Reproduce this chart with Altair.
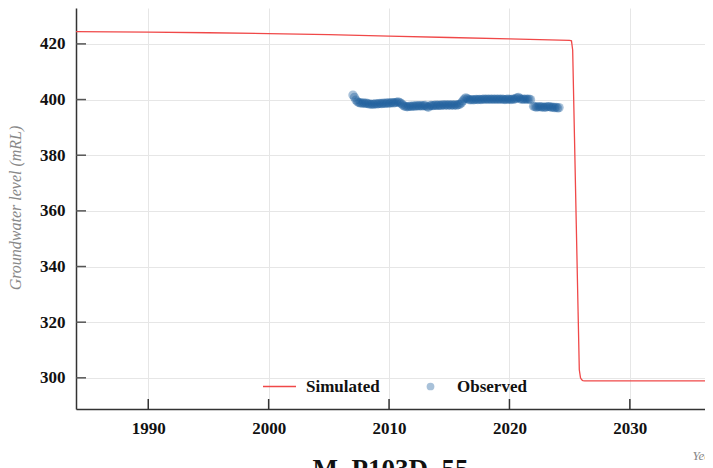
import altair as alt
import pandas as pd

# ---------------- data ----------------
sim_year = [1984, 1990, 1995, 2000, 2005, 2010, 2015, 2020, 2025.0, 2025.15,
            2025.25, 2025.4, 2025.55, 2025.7, 2025.8, 2025.9, 2026.0, 2026.1,
            2026.25, 2036.24]
sim_level = [424.4, 424.2, 424.0, 423.7, 423.3, 422.8, 422.3, 421.8, 421.3, 421.1,
             417.8, 386.5, 355.0, 323.7, 302.9, 300.0, 299.3, 299.0,
             298.9, 298.9]

obs_year = [
    2007.0, 2007.125, 2007.25, 2007.375, 2007.5, 2007.625, 2007.75, 2007.875,
    2008.0, 2008.125, 2008.25, 2008.375, 2008.5, 2008.625, 2008.75, 2008.875,
    2009.0, 2009.125, 2009.25, 2009.375, 2009.5, 2009.625, 2009.75, 2009.875,
    2010.0, 2010.125, 2010.25, 2010.375, 2010.5, 2010.625, 2010.75, 2010.875,
    2011.0, 2011.125, 2011.25,
    2011.375, 2011.5, 2011.625, 2011.75, 2011.875,
    2012.0, 2012.125, 2012.25, 2012.375, 2012.5, 2012.625, 2012.75, 2012.875,
    2013.0, 2013.125, 2013.25, 2013.375, 2013.5, 2013.625, 2013.75, 2013.875,
    2014.0, 2014.125, 2014.25, 2014.375, 2014.5, 2014.625, 2014.75, 2014.875,
    2015.0, 2015.125, 2015.25, 2015.375, 2015.5, 2015.625, 2015.75, 2015.875,
    2016.0,
    2016.125, 2016.25, 2016.375, 2016.5, 2016.625, 2016.75, 2016.875,
    2017.0, 2017.125, 2017.25, 2017.375, 2017.5, 2017.625, 2017.75, 2017.875,
    2018.0, 2018.125, 2018.25, 2018.375, 2018.5, 2018.625, 2018.75, 2018.875,
    2019.0, 2019.125, 2019.25, 2019.375, 2019.5, 2019.625, 2019.75, 2019.875,
    2020.0, 2020.125, 2020.25, 2020.375, 2020.5, 2020.625, 2020.75, 2020.875,
    2021.0, 2021.125, 2021.25, 2021.375, 2021.5, 2021.625, 2021.75,
    2022.0, 2022.125, 2022.25, 2022.375, 2022.5, 2022.625, 2022.75, 2022.875,
    2023.0, 2023.125, 2023.25, 2023.375, 2023.5, 2023.625, 2023.75, 2023.875,
    2024.0, 2024.125,
]
obs_level = [
    401.6, 400.8, 399.8, 399.2, 398.9, 398.8, 398.7, 398.8,
    398.6, 398.7, 398.5, 398.4, 398.3, 398.4, 398.3, 398.5,
    398.4, 398.5, 398.6, 398.5, 398.7, 398.6, 398.7, 398.8,
    398.7, 398.8, 398.9, 398.8, 398.9, 399.0, 399.2, 398.9,
    398.6, 398.1, 397.7,
    397.5, 397.4, 397.5, 397.6, 397.5,
    397.7, 397.6, 397.7, 397.8, 397.7, 397.8, 397.7, 397.8,
    397.9, 397.5, 397.2, 397.7, 397.9, 397.8, 397.9, 398.0,
    397.9, 398.0, 397.9, 398.0, 398.1, 398.0, 398.1, 398.0,
    398.1, 398.0, 398.1, 398.0, 398.1, 398.0, 398.2, 398.3,
    398.8,
    399.5, 400.2, 400.6, 400.3, 400.0, 399.9, 400.0,
    399.9, 400.0, 400.1, 400.0, 400.1, 400.0, 400.1, 400.2,
    400.1, 400.2, 400.1, 400.2, 400.1, 400.2, 400.1, 400.2,
    400.1, 400.2, 400.1, 400.2, 400.1, 400.0, 400.1, 400.2,
    400.1, 400.0, 400.2, 400.1, 400.3, 400.6, 400.8, 400.3,
    400.1, 400.2, 400.1, 400.2, 400.1, 400.2, 400.0,
    397.6, 397.4, 397.3, 397.4, 397.5, 397.3, 397.4, 397.2,
    397.3, 397.4, 397.5, 397.4, 397.2, 397.3, 397.1, 397.2,
    397.0, 397.1,
]

x_ticks = [1990, 2000, 2010, 2020, 2030]
y_ticks = [300, 320, 340, 360, 380, 400, 420]

x_domain = [1984, 2036.24]
y_domain = [288.8, 432.9]

W, H = 629, 401
FONT = "Liberation Serif"
RED = "#f04848"
BLUE = "#1a5b9c"

sim_df = pd.DataFrame({"year": sim_year, "level": sim_level, "series": "Simulated"})
obs_df = pd.DataFrame({"year": obs_year, "level": obs_level, "series": "Observed"})
xt_df = pd.DataFrame({"t": x_ticks})
yt_df = pd.DataFrame({"t": y_ticks})

x_scale = alt.Scale(domain=x_domain, nice=False, zero=False)
y_scale = alt.Scale(domain=y_domain, nice=False, zero=False)

x_axis = alt.Axis(
    values=x_ticks, format="d", title="Year", ticks=False, tickSize=0,
    labelPadding=11, labelFont=FONT, labelFontSize=17, labelFontWeight="bold",
    labelColor="#111", titleFont=FONT, titleFontSize=13, titleFontStyle="italic",
    titleFontWeight="normal", titleColor="#888", titleX=616, titleY=40,
    titleAlign="left", titleBaseline="top",
    domainColor="#333", domainWidth=1.5, gridColor="#e6e6e6", grid=True,
)
y_axis = alt.Axis(
    values=y_ticks, format="d", title="Groundwater level (mRL)", ticks=False, tickSize=0,
    labelPadding=11, labelFont=FONT, labelFontSize=17, labelFontWeight="bold",
    labelColor="#111", titleFont=FONT, titleFontSize=16, titleFontStyle="italic",
    titleFontWeight="normal", titleColor="#888", titleX=-61, titleY=H / 2 - 1,
    titleBaseline="middle", domainColor="#333", domainWidth=1.5,
    gridColor="#e6e6e6", grid=True,
)

line = alt.Chart(sim_df).mark_line(strokeWidth=1.3).encode(
    x=alt.X("year:Q", scale=x_scale, axis=x_axis),
    y=alt.Y("level:Q", scale=y_scale, axis=y_axis),
    stroke=alt.Stroke(
        "series:N",
        scale=alt.Scale(domain=["Simulated"], range=[RED]),
        legend=alt.Legend(
            title=None, orient="none", legendX=186, legendY=361,
            symbolType="stroke", symbolSize=1089, symbolStrokeWidth=1.5,
            labelOffset=9, labelFont=FONT, labelFontSize=17,
            labelFontWeight="bold", labelColor="#111",
        ),
    ),
)

points = alt.Chart(obs_df).mark_point(filled=True, size=85, opacity=0.38).encode(
    x=alt.X("year:Q", scale=x_scale),
    y=alt.Y("level:Q", scale=y_scale),
    fill=alt.Fill(
        "series:N",
        scale=alt.Scale(domain=["Observed"], range=[BLUE]),
        legend=alt.Legend(
            title=None, orient="none", legendX=346, legendY=370,
            symbolType="circle", symbolSize=60, labelOffset=18,
            labelFont=FONT, labelFontSize=17, labelFontWeight="bold",
            labelColor="#111",
        ),
    ),
)

xticks = alt.Chart(xt_df).mark_rule(color="#333", strokeWidth=1.5).encode(
    x=alt.X("t:Q", scale=x_scale),
    y=alt.value(H),
    y2=alt.value(H - 10),
)
yticks = alt.Chart(yt_df).mark_rule(color="#555", strokeWidth=1.5).encode(
    y=alt.Y("t:Q", scale=y_scale),
    x=alt.value(0),
    x2=alt.value(10),
)

chart = alt.layer(line, points, xticks, yticks).properties(
    width=W, height=H,
    title=alt.TitleParams(
        "M_P103D_55", orient="bottom", font=FONT, fontSize=27,
        fontWeight="bold", color="#111", offset=-5,
    ),
    autosize=alt.AutoSizeParams(type="none"),
    padding={"left": 68, "top": 0, "right": 0, "bottom": 59},
).configure_view(stroke="transparent")

chart.save("out.html", embed_options={"renderer": "svg", "actions": False})
